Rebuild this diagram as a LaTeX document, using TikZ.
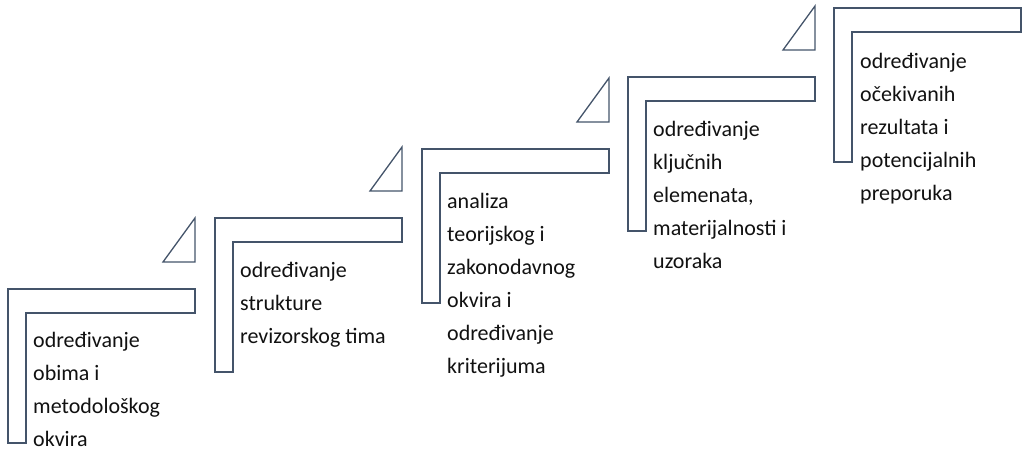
\documentclass[tikz,border=0pt]{standalone}
\usepackage{fontspec}
\setmainfont{Carlito}
\definecolor{outl}{HTML}{44546A}
\definecolor{txt}{HTML}{111111}
\tikzset{
  stepshape/.style={draw=outl, line width=1.3pt, line join=miter},
  tri/.style={draw=outl, line width=1.3pt, line join=miter},
  label/.style={anchor=base west, inner sep=0pt, align=left, text=txt,
    font=\fontsize{22}{33}\selectfont}
}
\newcommand{\stairstep}[2]{%
  \draw[stepshape] (#1,#2) -- ++(187,0) -- ++(0,24) -- ++(-169,0) -- ++(0,130) -- ++(-18,0) -- cycle;
}
\newcommand{\stairtri}[2]{%
  \draw[tri] (#1+155,#2-27) -- (#1+187,#2-27) -- (#1+187,#2-71) -- cycle;
}
\begin{document}
\begin{tikzpicture}[x=1pt,y=-1pt]
\useasboundingbox (0,0) rectangle (1025,452);
\stairstep{8}{289}
\stairstep{215}{218}
\stairstep{422}{149}
\stairstep{628}{77}
\stairstep{834}{8}
\stairtri{8}{289}
\stairtri{215}{218}
\stairtri{422}{149}
\stairtri{628}{77}
% anchor is the baseline of the last line
\node[label] (t1) at (33,446) {određivanje\\obima i\\metodološkog\\okvira};
\node[label] (t2) at (240,343) {određivanje\\strukture\\revizorskog tima};
\node[label] (t3) at (447,373) {analiza\\teorijskog i\\zakonodavnog\\okvira i\\određivanje\\kriterijuma};
\node[label] (t4) at (653,268) {određivanje\\ključnih\\elemenata,\\materijalnosti i\\uzoraka};
\node[label] (t5) at (860,200) {određivanje\\očekivanih\\rezultata i\\potencijalnih\\preporuka};
\end{tikzpicture}
\end{document}
